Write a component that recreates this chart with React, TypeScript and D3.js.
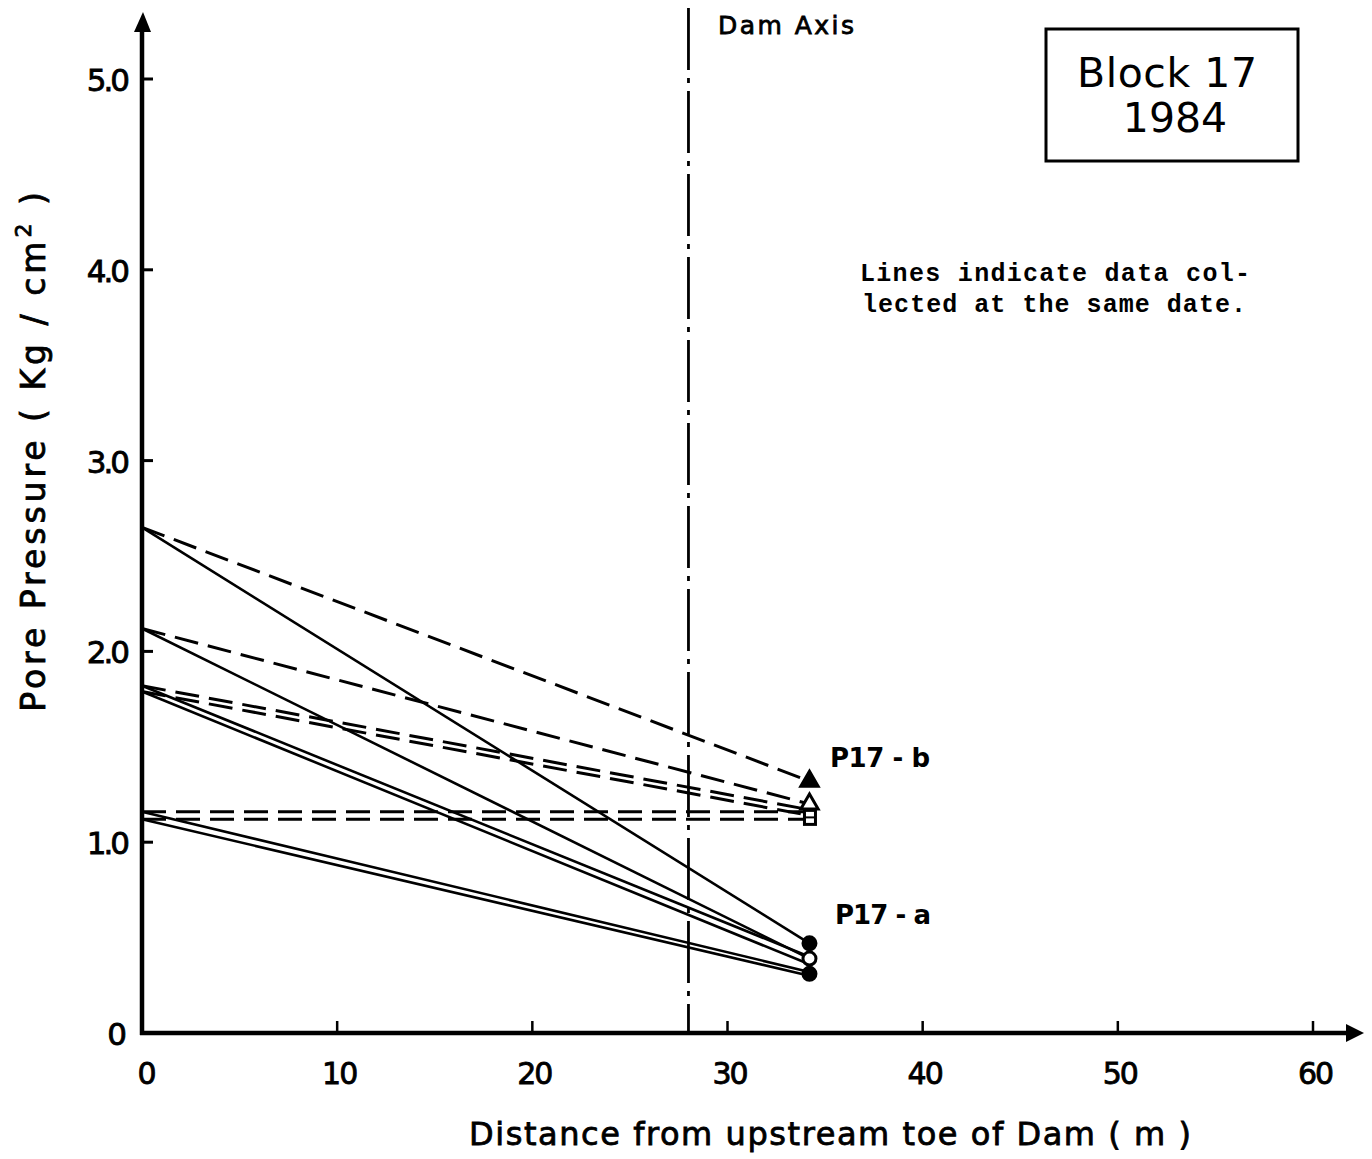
import React from 'react';
import * as d3 from 'd3';

// ---- data ----
const xTickValues = [0, 10, 20, 30, 40, 50, 60];
const xTickLabels = ['0', '10', '20', '30', '40', '50', '60'];
const yTickValues = [0, 1, 2, 3, 4, 5];
const yTickLabels = ['0', '1.0', '2.0', '3.0', '4.0', '5.0'];
const upstreamDistance = 0;
const piezometerDistance = 34.2;
const damAxisDistance = 28;
// one entry per reading date
const upstreamPressure = [2.65, 2.12, 1.82, 1.79, 1.16, 1.12];
const p17aPressure = [0.47, 0.39, 0.4, 0.36, 0.32, 0.3];
const p17bPressure = [1.32, 1.2, 1.17, 1.14, 1.16, 1.12];
const p17bMarkerValues = [1.32, 1.2, 1.13];
const p17bMarkerShapes = ['filledTriangle', 'openTriangle', 'openSquare'];
const p17aMarkerValues = [0.47, 0.39, 0.31];
const p17aMarkerShapes = ['filledCircle', 'openCircle', 'filledCircle'];

const W = 1372;
const H = 1159;

export default function App() {
  const x = d3.scaleLinear().domain([0, 60]).range([142, 1313]);
  const y = d3.scaleLinear().domain([0, 5]).range([1033, 79]);
  const line = d3.line<[number, number]>().x((d) => x(d[0])).y((d) => y(d[1]));

  const axisFont = '"DejaVu Sans", "Open Sans", sans-serif';
  const monoFont = '"Liberation Mono", "DejaVu Sans Mono", monospace';
  const heavy = { stroke: '#000', strokeWidth: 0.8 };

  const marker = (shape: string, v: number, key: string) => {
    const cx = x(piezometerDistance);
    const cy = y(v);
    if (shape === 'filledTriangle' || shape === 'openTriangle') {
      const tri = d3.symbol().type(d3.symbolTriangle).size(130)();
      return (
        <path
          key={key}
          d={tri || ''}
          transform={`translate(${cx},${cy})`}
          fill={shape === 'filledTriangle' ? '#000' : '#fff'}
          stroke="#000"
          strokeWidth={3}
        />
      );
    }
    if (shape === 'openSquare') {
      return (
        <g key={key}>
          <rect x={cx - 5} y={cy - 7} width={11} height={14} fill="#fff" stroke="#000" strokeWidth={3} />
          <line x1={cx - 5} x2={cx + 6} y1={cy} y2={cy} stroke="#000" strokeWidth={2} />
        </g>
      );
    }
    return (
      <circle
        key={key}
        cx={cx}
        cy={cy}
        r={6.5}
        fill={shape === 'filledCircle' ? '#000' : '#fff'}
        stroke="#000"
        strokeWidth={3}
      />
    );
  };

  return (
    <svg
      width={W}
      height={H}
      viewBox={`0 0 ${W} ${H}`}
      style={{ position: 'absolute', left: 0, top: 0, background: '#fff' }}
    >
      <rect x={0} y={0} width={W} height={H} fill="#fff" />

      {/* Dam axis dash-dot line */}
      <line
        x1={x(damAxisDistance)}
        x2={x(damAxisDistance)}
        y1={8}
        y2={y(0)}
        stroke="#000"
        strokeWidth={2.8}
        strokeDasharray="62 8 5 8"
      />
      <text x={718} y={34} fontFamily={axisFont} fontSize={25} fill="#000" textLength={136} {...heavy}>
        Dam Axis
      </text>

      {/* dashed lines to P17-b */}
      {upstreamPressure.map((v0, i) => (
        <path
          key={`b${i}`}
          d={line([
            [upstreamDistance, v0],
            [piezometerDistance, p17bPressure[i]],
          ]) || ''}
          fill="none"
          stroke="#000"
          strokeWidth={3}
          strokeDasharray="24 10"
        />
      ))}
      {/* solid lines to P17-a */}
      {upstreamPressure.map((v0, i) => (
        <path
          key={`a${i}`}
          d={line([
            [upstreamDistance, v0],
            [piezometerDistance, p17aPressure[i]],
          ]) || ''}
          fill="none"
          stroke="#000"
          strokeWidth={2.6}
        />
      ))}

      {/* markers */}
      {p17bMarkerValues.map((v, i) => marker(p17bMarkerShapes[i], v, `mb${i}`))}
      {p17aMarkerValues.map((v, i) => marker(p17aMarkerShapes[i], v, `ma${i}`))}

      <text x={830} y={767} fontFamily={axisFont} fontSize={26} fontWeight="bold" fill="#000" textLength={100}>
        P17 - b
      </text>
      <text x={835} y={924} fontFamily={axisFont} fontSize={26} fontWeight="bold" fill="#000" textLength={96}>
        P17 - a
      </text>

      {/* Y axis */}
      <line x1={x(0)} x2={x(0)} y1={y(0) + 2} y2={24} stroke="#000" strokeWidth={4.5} />
      <path d={`M${x(0) - 8},${32} L${x(0) + 1},${12} L${x(0) + 9},${32} Z`} fill="#000" />
      {yTickValues.map((v, i) => (
        <g key={`yt${i}`}>
          {v > 0 && <line x1={x(0)} x2={x(0) + 11} y1={y(v)} y2={y(v)} stroke="#000" strokeWidth={3} />}
          <text
            x={v === 0 ? 124 : 127}
            y={y(v) + 12}
            textAnchor="end"
            fontFamily={axisFont}
            fontSize={31}
            fill="#000"
            letterSpacing={-3}
            {...heavy}
          >
            {yTickLabels[i]}
          </text>
        </g>
      ))}

      {/* X axis */}
      <line x1={x(0) - 2} x2={1356} y1={y(0)} y2={y(0)} stroke="#000" strokeWidth={4.5} />
      <path d={`M1346,${y(0) - 9} L1364,${y(0)} L1346,${y(0) + 9} Z`} fill="#000" />
      {xTickValues.map((v, i) => (
        <g key={`xt${i}`}>
          {v > 0 && <line x1={x(v)} x2={x(v)} y1={y(0)} y2={y(0) - 12} stroke="#000" strokeWidth={2.5} />}
          <text
            x={x(v) + (v === 0 ? 4 : 2)}
            y={1084}
            textAnchor="middle"
            fontFamily={axisFont}
            fontSize={30}
            fill="#000"
            letterSpacing={-2}
            {...heavy}
          >
            {xTickLabels[i]}
          </text>
        </g>
      ))}

      {/* axis titles */}
      <text
        x={830}
        y={1145}
        textAnchor="middle"
        fontFamily={axisFont}
        fontSize={32}
        fill="#000"
        textLength={722}
        {...heavy}
      >
        Distance from upstream toe of Dam  ( m )
      </text>
      <text
        transform="translate(45,450) rotate(-90)"
        textAnchor="middle"
        fontFamily={axisFont}
        fontSize={33}
        fill="#000"
        letterSpacing={4}
        {...heavy}
      >
        Pore Pressure ( Kg / cm
        <tspan dy={-14} fontSize={22}>2</tspan>
        <tspan dy={14}> )</tspan>
      </text>

      {/* Title box */}
      <rect x={1046} y={29} width={252} height={132} fill="none" stroke="#000" strokeWidth={3} />
      <text x={1167} y={87} textAnchor="middle" fontFamily={axisFont} fontSize={41} fill="#000" textLength={180}>
        Block 17
      </text>
      <text x={1175} y={132} textAnchor="middle" fontFamily={axisFont} fontSize={41} fill="#000">
        1984
      </text>

      {/* note */}
      <text x={860} y={281} fontFamily={monoFont} fontSize={25} fontWeight="bold" fill="#000" textLength={390}>
        Lines indicate data col-
      </text>
      <text x={862} y={312} fontFamily={monoFont} fontSize={25} fontWeight="bold" fill="#000" textLength={384}>
        lected at the same date.
      </text>
    </svg>
  );
}
